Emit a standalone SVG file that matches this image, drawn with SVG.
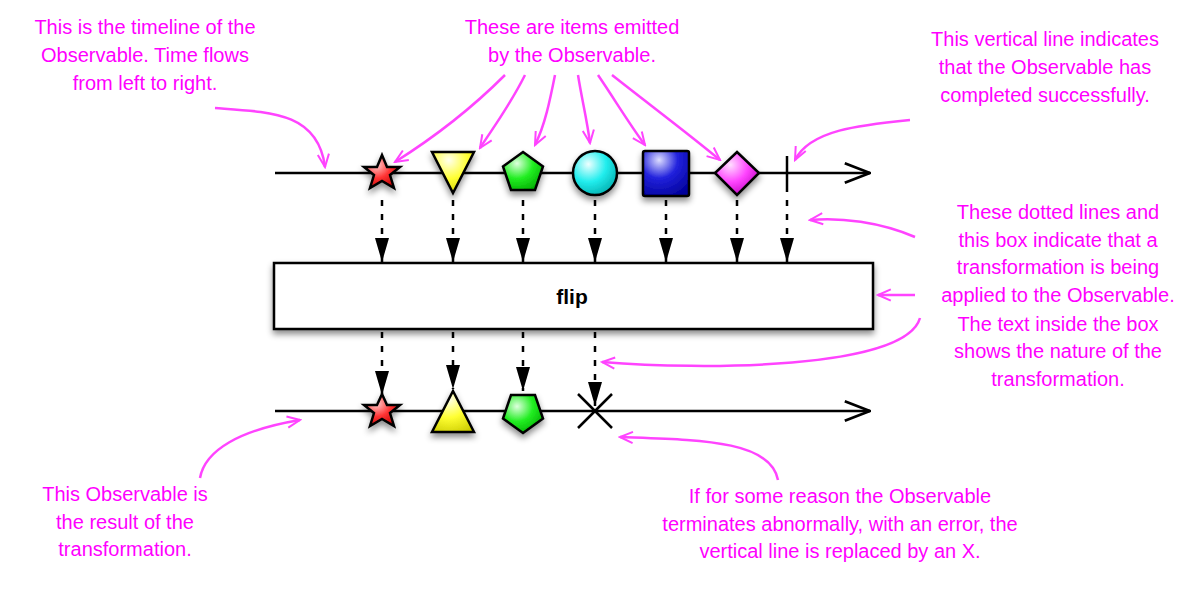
<svg xmlns="http://www.w3.org/2000/svg" width="1200" height="595" viewBox="0 0 1200 595">
<defs>
<style>
.t{font-family:"Liberation Sans",Arial,sans-serif;font-size:20px;fill:#f0f;text-anchor:middle}
.ln{stroke:#000;stroke-width:2.5;fill:none}
.dash{stroke:#000;stroke-width:2.5;stroke-dasharray:6,8;fill:none}
.sh{stroke:#000;stroke-width:2.5;filter:url(#ds)}
.m{stroke:#f4f;stroke-width:2.5;fill:none;marker-end:url(#ma)}
</style>
<filter id="ds" x="-30%" y="-30%" width="160%" height="170%"><feDropShadow dx="0" dy="4" stdDeviation="3" flood-opacity="0.45"/></filter>
<marker id="ma" viewBox="0 0 20 20" refX="18" refY="10" markerWidth="16" markerHeight="16" markerUnits="userSpaceOnUse" orient="auto"><path d="M2,3 L18,10 L2,17" fill="none" stroke="#f4f" stroke-width="2.5"/></marker>
<marker id="ba" viewBox="0 0 20 20" refX="19" refY="10" markerWidth="28" markerHeight="28" markerUnits="userSpaceOnUse" orient="auto"><path d="M1,3 L19,10 L1,17" fill="none" stroke="#000" stroke-width="2"/></marker>
<marker id="fa" viewBox="0 0 10 10" refX="10" refY="5" markerWidth="24" markerHeight="14" markerUnits="userSpaceOnUse" orient="auto" preserveAspectRatio="none"><path d="M0,0 L10,5 L0,10 Z" fill="#000"/></marker>
<radialGradient id="gr" cx="0.35" cy="0.3" r="0.8"><stop offset="0" stop-color="#fcc"/><stop offset="0.5" stop-color="#f33"/><stop offset="1" stop-color="#b00"/></radialGradient>
<radialGradient id="gy" cx="0.4" cy="0.2" r="0.9"><stop offset="0" stop-color="#ffe"/><stop offset="0.5" stop-color="#ff3"/><stop offset="1" stop-color="#cc0"/></radialGradient>
<radialGradient id="gg" cx="0.35" cy="0.3" r="0.8"><stop offset="0" stop-color="#dfd"/><stop offset="0.5" stop-color="#2e2"/><stop offset="1" stop-color="#0a0"/></radialGradient>
<radialGradient id="gc" cx="0.35" cy="0.3" r="0.8"><stop offset="0" stop-color="#eff"/><stop offset="0.5" stop-color="#2ee"/><stop offset="1" stop-color="#0aa"/></radialGradient>
<radialGradient id="gb" cx="0.35" cy="0.2" r="0.9"><stop offset="0" stop-color="#ddf"/><stop offset="0.45" stop-color="#22d"/><stop offset="1" stop-color="#009"/></radialGradient>
<radialGradient id="gm" cx="0.35" cy="0.3" r="0.8"><stop offset="0" stop-color="#fdf"/><stop offset="0.5" stop-color="#f4f"/><stop offset="1" stop-color="#b0b"/></radialGradient>
</defs>
<rect width="1200" height="595" fill="#fff"/>

<g id="connectors">
<line class="ln" x1="275" y1="173" x2="870" y2="173" marker-end="url(#ba)"/>
<line class="ln" x1="275" y1="411" x2="870" y2="411" marker-end="url(#ba)"/>
<g class="dash">
<line x1="382" y1="200" x2="382" y2="262" marker-end="url(#fa)"/>
<line x1="453" y1="200" x2="453" y2="262" marker-end="url(#fa)"/>
<line x1="523" y1="200" x2="523" y2="262" marker-end="url(#fa)"/>
<line x1="595" y1="200" x2="595" y2="262" marker-end="url(#fa)"/>
<line x1="666" y1="200" x2="666" y2="262" marker-end="url(#fa)"/>
<line x1="737" y1="200" x2="737" y2="262" marker-end="url(#fa)"/>
<line x1="787" y1="200" x2="787" y2="262" marker-end="url(#fa)"/>
<line x1="382" y1="332" x2="382" y2="395" marker-end="url(#fa)"/>
<line x1="453" y1="332" x2="453" y2="389" marker-end="url(#fa)"/>
<line x1="523" y1="332" x2="523" y2="391" marker-end="url(#fa)"/>
<line x1="595" y1="332" x2="595" y2="406" marker-end="url(#fa)"/>
</g>
</g>

<g id="box"><rect class="sh" x="274" y="263" width="599" height="66" fill="#fff"/>
<text x="572" y="304" font-family="Liberation Sans,Arial,sans-serif" font-size="21" font-weight="bold" text-anchor="middle">flip</text></g>

<g id="top-items">
<polygon class="sh" fill="url(#gr)" points="382,155 387,167 400,167 390,175 394,188 382,181 370,188 374,175 364,167 377,167"/>
<polygon class="sh" fill="url(#gy)" points="432,152 474,152 453,193"/>
<polygon class="sh" fill="url(#gg)" points="523,152 543,166.5 535,190 511,190 503,166.5"/>
<circle class="sh" fill="url(#gc)" cx="595" cy="173" r="22"/>
<rect class="sh" fill="url(#gb)" x="643" y="151" width="46" height="45" rx="2"/>
<polygon class="sh" fill="url(#gm)" points="737,152 759,173 737,195 715,173"/>
<line class="ln" x1="787" y1="156" x2="787" y2="192" stroke-width="3"/>
</g>

<g id="bottom-items">
<polygon class="sh" fill="url(#gr)" points="382,394 387,405 400,405 390,413 394,426 382,419 370,426 374,413 364,405 377,405"/>
<polygon class="sh" fill="url(#gy)" points="453,391 474,432 432,432"/>
<polygon class="sh" fill="url(#gg)" points="523,433 543,418.5 535,395 511,395 503,418.5"/>
<g class="ln" stroke-width="3"><line x1="578" y1="394" x2="612" y2="428"/><line x1="612" y1="394" x2="578" y2="428"/></g>
</g>

<g id="annotations">
<path class="m" d="M215,108 C270,112 318,112 325,167"/>
<path class="m" d="M505,75 C470,110 430,140 395,162"/>
<path class="m" d="M525,75 C510,105 495,125 480,148"/>
<path class="m" d="M555,75 C550,100 545,125 535,145"/>
<path class="m" d="M578,75 C582,100 587,120 590,143"/>
<path class="m" d="M598,75 C615,100 630,125 645,145"/>
<path class="m" d="M612,75 C650,105 690,135 720,160"/>
<path class="m" d="M910,120 C860,125 810,130 795,160"/>
<path class="m" d="M915,237 C880,222 840,217 810,220"/>
<path class="m" d="M915,295 L878,295"/>
<path class="m" d="M920,318 C905,370 700,370 602,362"/>
<path class="m" d="M200,478 C205,450 240,430 300,420"/>
<path class="m" d="M778,480 C770,440 700,440 620,437"/>
</g>

<g id="labels">
<text class="t" x="145" y="34">This is the timeline of the</text>
<text class="t" x="145" y="62">Observable. Time flows</text>
<text class="t" x="145" y="90">from left to right.</text>
<text class="t" x="572" y="34">These are items emitted</text>
<text class="t" x="572" y="62">by the Observable.</text>
<text class="t" x="1045" y="46">This vertical line indicates</text>
<text class="t" x="1045" y="74">that the Observable has</text>
<text class="t" x="1045" y="102">completed successfully.</text>
<text class="t" x="1058" y="219">These dotted lines and</text>
<text class="t" x="1058" y="247">this box indicate that a</text>
<text class="t" x="1058" y="274">transformation is being</text>
<text class="t" x="1058" y="302">applied to the Observable.</text>
<text class="t" x="1058" y="331">The text inside the box</text>
<text class="t" x="1058" y="358">shows the nature of the</text>
<text class="t" x="1058" y="386">transformation.</text>
<text class="t" x="125" y="501">This Observable is</text>
<text class="t" x="125" y="529">the result of the</text>
<text class="t" x="125" y="556">transformation.</text>
<text class="t" x="840" y="503">If for some reason the Observable</text>
<text class="t" x="840" y="531">terminates abnormally, with an error, the</text>
<text class="t" x="840" y="558">vertical line is replaced by an X.</text>
</g>
</svg>
